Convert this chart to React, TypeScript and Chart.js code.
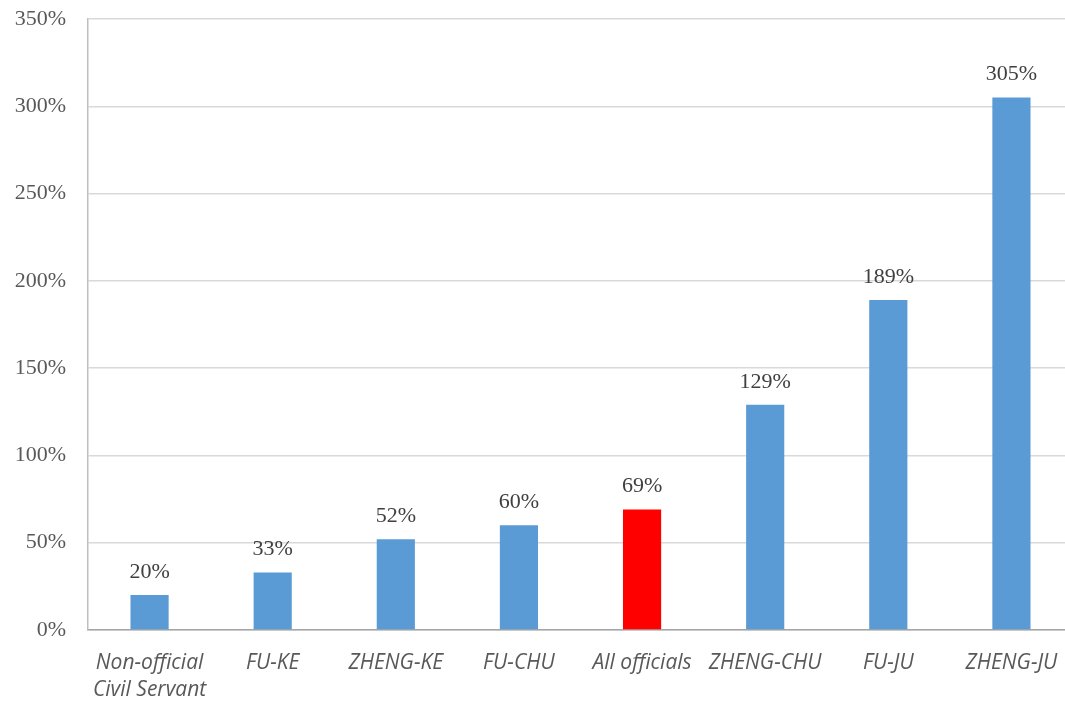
import React, { useEffect, useRef } from "react";
import { Chart, registerables } from "chart.js";

Chart.register(...registerables);

const categories: (string | string[])[] = [
  ["Non-official", "Civil Servant"],
  "FU-KE",
  "ZHENG-KE",
  "FU-CHU",
  "All officials",
  "ZHENG-CHU",
  "FU-JU",
  "ZHENG-JU",
];
const values = [20, 33, 52, 60, 69, 129, 189, 305];
const barColors = [
  "#5b9bd5",
  "#5b9bd5",
  "#5b9bd5",
  "#5b9bd5",
  "#ff0000",
  "#5b9bd5",
  "#5b9bd5",
  "#5b9bd5",
];

const serif = "'Liberation Serif', 'Times New Roman', serif";

// Writes each bar's value as a percentage just above it
const valueLabels = {
  id: "valueLabels",
  afterDatasetsDraw(chart: any) {
    const ctx = chart.ctx;
    const meta = chart.getDatasetMeta(0);
    ctx.save();
    ctx.font = "22px " + serif;
    ctx.fillStyle = "#404040";
    ctx.textAlign = "center";
    ctx.textBaseline = "bottom";
    meta.data.forEach((bar: any, i: number) => {
      ctx.fillText(values[i] + "%", bar.x, bar.y - 12);
    });
    ctx.restore();
  },
};

export default function App() {
  const canvasRef = useRef<HTMLCanvasElement | null>(null);

  useEffect(() => {
    if (!canvasRef.current) return;
    const chart = new Chart(canvasRef.current, {
      type: "bar",
      data: {
        labels: categories,
        datasets: [
          {
            data: values,
            backgroundColor: barColors,
            borderWidth: 0,
            barPercentage: 0.31,
            categoryPercentage: 1,
          },
        ],
      },
      options: {
        responsive: false,
        animation: false,
        layout: { padding: { top: 19, right: 0, left: 0, bottom: 0 } },
        plugins: {
          legend: { display: false },
          tooltip: { enabled: false },
        },
        scales: {
          x: {
            grid: { display: false, drawTicks: false },
            border: { color: "#a6a6a6", width: 1.5 },
            ticks: {
              color: "#595959",
              font: { family: "'Open Sans', sans-serif", size: 21, style: "italic", lineHeight: 1.3 },
              padding: 19,
              maxRotation: 0,
              autoSkip: false,
            },
            afterFit(scale: any) {
              scale.height = 77;
              scale.paddingLeft = 0;
              scale.paddingRight = 0;
            },
          },
          y: {
            min: 0,
            max: 350,
            grid: { color: "#d9d9d9", lineWidth: 1.5, drawTicks: false },
            border: { color: "#bfbfbf", width: 1.5 },
            ticks: {
              stepSize: 50,
              color: "#595959",
              font: { family: serif, size: 22 },
              padding: 22,
              callback: (v: any) => v + "%",
            },
            afterFit(scale: any) {
              scale.width = 88;
              scale.paddingTop = 0;
              scale.paddingBottom = 0;
            },
          },
        },
      },
      plugins: [valueLabels],
    });
    return () => chart.destroy();
  }, []);

  return (
    <div
      style={{
        position: "absolute",
        left: 0,
        top: 0,
        width: 1065,
        height: 707,
        overflow: "hidden",
        background: "#fff",
      }}
    >
      <canvas ref={canvasRef} width={1073} height={707} />
    </div>
  );
}
